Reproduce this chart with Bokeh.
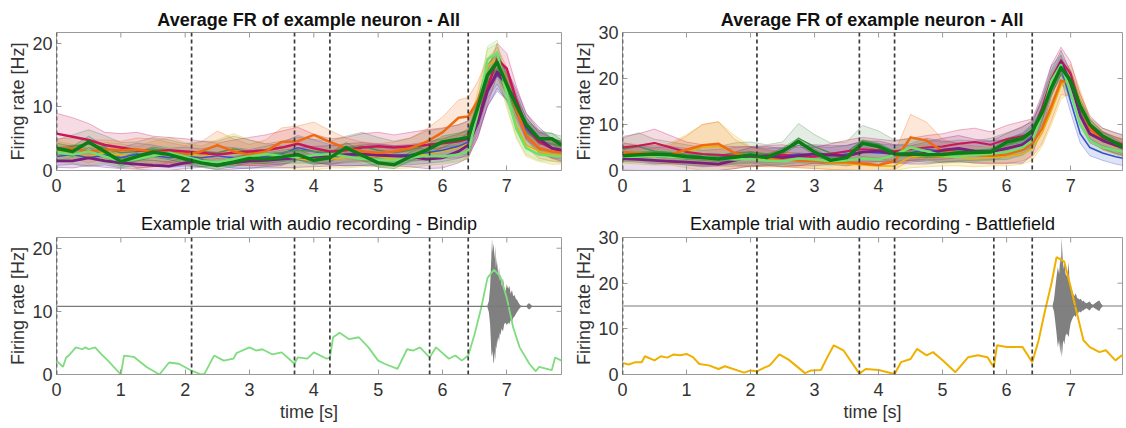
from bokeh.plotting import figure
from bokeh.layouts import column, row
from bokeh.models import Range1d, Span, FixedTicker
from bokeh.embed import file_html
from bokeh.resources import INLINE

# ---------------- data ----------------
T = [0, 0.25, 0.5, 0.75, 1.0, 1.25, 1.5, 1.75, 2.0, 2.25, 2.5, 2.75,
     3.0, 3.25, 3.5, 3.75, 4.0, 4.25, 4.5, 4.75, 5.0, 5.25, 5.5, 5.75,
     6.0, 6.25, 6.4, 6.55, 6.7, 6.85, 7.0, 7.15, 7.3, 7.5, 7.7, 7.85]

EVENTS = [0, 2.1, 3.7, 4.25, 5.8, 6.4]
X_TICKS = [0, 1, 2, 3, 4, 5, 6, 7]
Y_TICKS_L = [0, 10, 20]
Y_TICKS_R = [0, 10, 20, 30]

TITLE_TOP = "Average FR of example neuron - All"
TITLE_BL = "Example trial with audio recording - Bindip"
TITLE_BR = "Example trial with audio recording - Battlefield"
Y_LABEL = "Firing rate [Hz]"
X_LABEL = "time [s]"

# top-left: mean firing rates per condition
TL_DG = [3.5,3.0,4.5,3.0,1.4,2.2, 2.9,2.5,1.8,1.2,0.8,1.3, 1.9,1.8,2.1,2.5,1.6,2.0, 3.6,2.4,1.2,0.9,2.2,3.2, 4.5,4.9,5.2,10.0,15.0,17.0, 13.5,10.2,7.3,5.0,5.0,4.0]
TL_OR = [3.5,3.5,3.0,3.3,3.2,3.3, 3.0,2.8,2.5,3.0,4.0,3.0, 2.5,3.0,4.5,4.6,5.6,4.5, 3.5,3.0,2.8,3.0,3.5,4.5, 6.0,8.3,8.5,11.0,15.0,17.0, 14.0,9.5,5.5,3.5,3.0,2.8]
TL_PU = [1.5,1.5,2.0,1.5,1.2,1.0, 0.8,0.7,1.2,1.5,1.0,1.2, 1.5,1.6,1.8,2.0,2.2,2.3, 2.5,2.6,2.4,2.3,2.2,1.8, 2.0,3.0,4.0,7.5,12.5,15.5, 13.5,10.5,7.0,5.0,3.5,3.2]
TL_CR = [5.8,5.3,4.8,4.0,3.6,3.2, 3.0,3.2,3.0,2.8,2.5,2.8, 3.0,3.2,3.6,4.2,3.5,3.0, 3.2,3.6,3.8,3.6,3.8,4.0, 4.3,4.6,5.0,8.0,13.0,17.5, 16.0,11.0,7.0,4.5,3.5,3.0]
TL_LG = [2.8,2.5,3.0,2.2,1.5,1.8, 2.3,2.8,2.2,1.5,1.3,1.8, 2.2,2.6,2.3,2.0,2.4,2.6, 2.2,1.8,1.7,1.6,2.0,2.3, 2.2,2.5,3.0,9.0,17.5,18.5, 12.0,6.5,3.5,2.5,2.3,2.2]
TL_BL = [2.2,2.5,2.0,2.4,2.0,2.6, 2.4,2.0,2.2,2.0,2.3,2.0, 1.8,2.2,2.6,3.6,3.0,2.5, 2.2,2.4,2.6,2.4,2.5,2.8, 3.2,3.8,4.5,8.0,12.5,15.0, 13.5,10.0,6.5,4.5,3.5,3.0]
TL_GO = [3.0,2.6,2.2,2.8,2.4,2.0, 2.6,3.0,2.6,2.2,2.8,3.4, 2.8,2.4,2.2,1.8,1.6,1.8, 2.0,2.4,2.2,1.8,2.0,2.6, 3.0,3.6,4.2,10.0,16.5,17.5, 12.0,7.0,4.0,3.0,2.5,2.4]
TL_OL = [3.2,3.8,4.2,3.5,2.8,3.0, 3.4,3.0,2.6,3.0,2.8,3.4, 3.0,2.6,2.8,3.2,3.0,2.8, 3.4,3.8,3.2,2.8,3.2,4.0, 4.4,4.8,5.2,9.0,14.0,16.0, 13.0,9.0,6.0,4.6,4.2,3.8]

# top-left: standard errors
TL_DG_S = [0.8,0.8,0.9,0.8,0.7,0.7, 0.8,0.8,0.7,0.6,0.6,0.7, 0.7,0.7,0.7,0.8,0.7,0.7, 0.8,0.8,0.7,0.6,0.7,0.8, 0.9,1.0,1.0,1.3,1.6,1.7, 1.6,1.3,1.1,0.9,0.9,0.8]
TL_OR_S = [1.5,1.6,1.8,1.5,1.4,1.8, 2.0,1.6,1.4,1.5,2.2,2.0, 1.6,1.8,2.2,2.4,2.0,1.8, 1.6,1.5,1.4,1.5,1.6,2.0, 2.4,2.8,3.0,3.0,2.6,2.4, 2.2,2.0,1.8,1.6,1.5,1.5]
TL_PU_S = [1.0,1.1,1.2,1.0,0.9,0.8, 0.8,0.7,0.9,1.0,0.9,1.0, 1.1,1.2,1.4,1.5,1.6,1.6, 1.7,1.8,1.7,1.6,1.6,1.5, 1.6,1.8,2.0,2.2,2.4,2.6, 2.4,2.2,2.0,1.8,1.5,1.4]
TL_CR_S = [3.2,3.0,2.6,2.0,2.2,2.8, 2.4,2.0,2.0,1.8,1.8,2.0, 2.2,2.4,2.6,2.6,2.2,2.0, 2.0,2.2,2.2,2.0,2.2,2.4, 2.4,2.6,2.8,2.8,2.6,2.5, 2.4,2.2,2.0,1.8,1.6,1.6]
TL_LG_S = [1.0,1.0,1.1,1.0,0.9,0.9, 1.0,1.0,0.9,0.8,0.8,0.9, 0.9,1.0,1.0,0.9,0.9,1.0, 0.9,0.8,0.8,0.8,0.9,0.9, 0.9,1.0,1.0,1.5,2.0,2.0, 1.6,1.2,1.0,0.9,0.9,0.9]
TL_BL_S = [1.4,1.5,1.4,1.5,1.6,1.7, 1.6,1.5,1.5,1.4,1.5,1.6, 1.5,1.6,1.8,1.9,1.8,1.6, 1.5,1.6,1.6,1.5,1.6,1.7, 1.8,1.9,2.0,2.2,2.4,2.5, 2.4,2.1,1.8,1.6,1.5,1.5]
TL_GO_S = [1.6,1.5,1.4,1.6,1.8,1.7, 2.0,2.2,1.8,1.6,2.0,2.4, 2.0,1.8,1.7,1.6,1.5,1.4, 1.6,1.8,1.6,1.5,1.6,1.8, 2.0,2.2,2.4,2.6,2.6,2.4, 2.2,2.0,1.8,1.6,1.5,1.4]
TL_OL_S = [1.6,1.8,2.2,2.0,1.6,1.5, 1.8,1.8,1.6,1.6,1.8,2.0, 1.8,1.6,1.8,2.0,1.9,1.8, 2.0,2.2,2.0,1.8,1.9,2.2, 2.2,2.4,2.6,2.6,2.6,2.4, 2.2,2.0,1.8,1.7,1.6,1.6]

# top-right: mean firing rates per condition
TR_DG = [3.2,3.4,3.6,3.4,3.0,2.8, 2.5,2.9,3.4,2.8,4.2,6.3, 4.0,2.2,2.8,5.9,5.2,3.6, 3.6,3.4,3.5,3.8,3.9,4.0, 6.2,7.0,8.6,12.5,18.0,22.4, 19.5,14.0,10.0,7.5,6.0,5.0]
TR_OR = [4.0,3.8,3.6,3.5,4.5,5.5, 5.8,3.8,3.0,2.6,2.4,2.2, 2.0,1.8,1.8,1.5,1.2,2.0, 7.2,6.5,4.2,3.8,3.5,3.2, 3.5,4.5,6.0,9.0,14.0,19.5, 19.0,14.0,9.0,6.5,5.5,5.0]
TR_PU = [2.6,2.4,2.2,2.0,1.8,1.6, 1.4,2.2,3.0,3.2,2.8,3.2, 3.6,3.4,3.2,4.0,4.2,3.6, 3.4,3.8,4.4,4.8,4.2,4.0, 4.8,5.6,7.0,12.0,19.0,23.5, 19.0,12.0,8.0,6.5,5.5,4.8]
TR_CR = [5.0,5.4,6.0,5.0,4.0,3.6, 3.4,3.2,3.0,3.2,3.4,3.0, 3.0,3.6,4.2,4.6,4.4,4.2, 4.6,5.0,5.2,5.8,6.2,5.6, 6.8,7.5,8.2,13.5,20.0,24.0, 21.0,14.0,9.5,7.0,6.2,5.5]
TR_LG = [3.0,3.0,3.2,3.0,2.8,3.0, 2.6,2.4,2.5,2.2,2.0,2.6, 2.4,2.0,2.2,2.6,2.4,3.4, 5.0,4.2,3.2,3.0,3.4,3.6, 4.0,5.0,6.5,12.0,19.5,23.0, 17.0,10.0,6.5,5.0,4.4,4.0]
TR_BL = [4.0,3.6,3.2,3.4,3.0,2.6, 2.8,3.2,3.4,3.0,3.2,3.6, 3.4,3.2,3.6,4.0,3.8,3.6, 3.8,4.6,4.2,4.0,4.2,4.4, 4.6,5.8,7.5,13.0,20.0,22.5, 15.0,8.0,5.0,3.8,3.0,2.6]
TR_GO = [3.6,3.2,3.0,3.6,4.2,5.0, 5.2,4.0,3.0,2.8,2.4,2.2, 2.0,1.6,1.4,1.2,1.0,1.0, 3.0,3.2,3.0,2.8,2.6,2.8, 3.0,3.6,4.8,8.0,13.0,18.5, 20.0,15.0,9.0,6.5,5.2,4.8]
TR_OL = [4.6,5.2,4.2,3.8,3.4,3.0, 3.2,3.8,4.0,3.6,4.0,7.0, 5.2,3.8,4.0,6.4,5.6,4.2, 4.6,4.2,4.0,4.4,4.2,4.6, 5.6,6.6,8.0,12.5,18.0,22.0, 19.0,13.0,9.0,7.0,6.0,5.5]

# top-right: standard errors
TR_DG_S = [0.6,0.6,0.6,0.6,0.6,0.6, 0.6,0.6,0.6,0.6,0.7,0.8, 0.7,0.6,0.6,0.8,0.7,0.6, 0.6,0.6,0.6,0.6,0.6,0.6, 0.8,0.9,1.0,1.2,1.5,1.6, 1.5,1.2,1.0,0.9,0.8,0.7]
TR_OR_S = [2.0,1.8,1.8,2.0,3.0,4.5, 4.8,3.0,2.0,1.8,1.6,1.6, 1.6,1.6,1.6,1.6,1.5,1.8, 5.0,4.0,2.6,2.0,1.8,1.8, 2.0,2.4,3.0,3.2,3.2,3.0, 2.8,2.6,2.2,2.0,1.8,1.8]
TR_PU_S = [2.5,3.0,3.8,3.2,2.4,2.0, 1.8,1.8,2.0,2.0,2.0,2.2, 2.0,2.0,2.2,2.4,2.2,2.0, 2.0,2.4,2.6,2.8,2.6,2.4, 3.2,4.0,3.6,3.0,2.8,2.6, 2.4,2.2,2.0,1.8,1.8,1.8]
TR_CR_S = [2.4,2.6,3.0,2.6,2.2,2.0, 2.0,2.0,2.2,2.2,2.2,2.0, 2.0,2.2,2.4,2.6,2.4,2.2, 2.4,2.6,2.8,3.0,3.0,2.8, 3.0,3.2,3.0,3.0,3.0,2.8, 2.6,2.6,2.4,2.2,2.0,2.0]
TR_LG_S = [1.2,1.2,1.2,1.2,1.2,1.2, 1.2,1.1,1.1,1.0,1.0,1.1, 1.1,1.0,1.0,1.1,1.1,1.4, 2.0,1.8,1.4,1.3,1.4,1.5, 1.6,1.8,2.0,2.2,2.4,2.5, 2.2,2.0,1.6,1.4,1.3,1.3]
TR_BL_S = [2.0,1.8,1.8,1.8,1.8,1.8, 1.8,1.8,1.8,1.8,1.8,1.9, 1.9,1.8,1.9,2.2,2.0,1.9, 2.0,2.4,2.2,2.0,2.0,2.0, 2.2,2.4,2.6,2.8,2.8,2.6, 2.4,2.0,1.8,1.6,1.6,1.6]
TR_GO_S = [2.0,1.8,1.8,2.4,3.6,5.0, 5.4,3.6,2.2,1.8,1.6,1.6, 1.5,1.4,1.4,1.4,1.4,1.4, 2.4,2.4,2.0,1.8,1.8,1.8, 2.0,2.2,2.6,2.8,3.0,3.0, 3.0,2.6,2.2,2.0,1.8,1.8]
TR_OL_S = [2.4,3.0,2.6,2.4,2.2,2.0, 2.0,2.2,2.2,2.0,2.2,3.2, 2.6,2.2,2.2,3.4,3.0,2.4, 2.4,2.4,2.2,2.2,2.2,2.4, 2.6,2.8,3.0,3.0,3.0,3.0, 2.8,2.6,2.4,2.2,2.2,2.2]

# bottom-left: single trial (Bindip)
BL_T = [0, 0.1, 0.15, 0.2, 0.3, 0.4, 0.45, 0.5, 0.6, 0.7, 0.8, 1.0, 1.05, 1.2, 1.4, 1.6, 1.75, 1.9,
        2.1, 2.25, 2.3, 2.45, 2.6, 2.75, 2.8, 3.0, 3.1, 3.2, 3.35, 3.5, 3.7, 3.75, 3.9, 4.0, 4.2, 4.25,
        4.3, 4.4, 4.55, 4.7, 4.85, 5.0, 5.1, 5.3, 5.45, 5.55, 5.65, 5.8, 5.9, 6.1, 6.2, 6.3, 6.4, 6.5,
        6.6, 6.7, 6.8, 6.9, 7.0, 7.1, 7.2, 7.35, 7.45, 7.5, 7.7, 7.75, 7.85]
BL_FR = [2.2, 1.2, 2.7, 3.1, 4.3, 4.0, 4.3, 4.0, 4.3, 3.2, 2.2, 0.0, 3.0, 2.8, 1.2, 0.0, 1.9, 1.7,
         0.6, 0.0, 0.1, 3.0, 2.2, 2.5, 3.4, 4.3, 3.8, 4.0, 3.2, 3.5, 1.7, 2.7, 2.5, 3.5, 2.5, 2.7,
         5.9, 6.6, 5.6, 5.9, 4.3, 2.2, 1.7, 0.9, 4.0, 3.8, 4.3, 2.7, 4.3, 2.5, 3.0, 2.2, 3.0, 6.4,
         10.5, 15.3, 16.6, 15.5, 12.1, 7.4, 4.3, 1.7, 0.5, 1.2, 0.7, 2.7, 2.2]

# bottom-right: single trial (Battlefield)
BR_T = [0, 0.1, 0.2, 0.3, 0.35, 0.5, 0.6, 0.7, 0.8, 0.9, 1.0, 1.1, 1.2, 1.35, 1.5, 1.6, 1.9, 2.0,
        2.1, 2.2, 2.3, 2.45, 2.6, 2.85, 2.95, 3.1, 3.2, 3.3, 3.45, 3.7, 3.8, 4.0, 4.25, 4.35, 4.5,
        4.6, 4.75, 4.85, 5.0, 5.2, 5.4, 5.55, 5.7, 5.8, 5.85, 6.0, 6.1, 6.25, 6.4, 6.5, 6.6, 6.7,
        6.78, 6.9, 7.0, 7.1, 7.2, 7.3, 7.45, 7.55, 7.7, 7.8, 7.85]
BR_FR = [2.5, 2.2, 2.7, 2.7, 4.0, 3.1, 4.0, 3.7, 4.4, 4.2, 4.5, 3.8, 2.3, 2.0, 1.2, 1.8, 0.4, 0.9,
         0.7, 1.4, 2.0, 4.4, 3.2, 0.3, 0.9, 1.0, 3.8, 6.4, 5.3, 0.2, 1.2, 1.0, 0.1, 2.7, 3.4,
         5.6, 4.2, 4.9, 3.1, 0.5, 3.8, 4.2, 3.8, 1.6, 6.4, 6.0, 6.0, 6.0, 2.7, 7.5, 14.0, 19.9,
         25.7, 24.7, 19.2, 13.3, 7.5, 6.0, 4.9, 5.3, 3.1, 4.2, 3.1]

# audio recordings: baseline level and envelope offsets
AUD_L_BASE = 10.8
AUD_L_T = [6.70, 6.72, 6.74, 6.75, 6.76, 6.77, 6.78, 6.79, 6.80, 6.81, 6.82, 6.83, 6.84, 6.85,
           6.86, 6.87, 6.88, 6.89, 6.90, 6.92, 6.94, 6.96, 6.98, 7.00, 7.02, 7.04, 7.06, 7.08,
           7.10, 7.12, 7.14, 7.16, 7.18, 7.20, 7.22, 7.30, 7.33, 7.35, 7.37, 7.40]
AUD_L_HI = [0.2, 0.8, 3.0, 5.5, 8.0, 10.8, 8.5, 10.0, 9.0, 7.5, 9.5, 6.0, 7.8, 5.5, 7.0, 4.5,
            6.2, 4.0, 5.0, 3.2, 4.5, 3.0, 2.4, 3.5, 2.8, 3.2, 2.0, 2.6, 1.6, 1.8, 1.2, 1.0, 0.6,
            0.3, 0.1, 0.0, 0.4, 0.5, 0.3, 0.0]
AUD_L_LO = [-0.2, -0.9, -2.8, -5.0, -7.5, -8.0, -7.0, -8.8, -9.0, -7.2, -8.5, -6.2, -6.8, -5.0,
            -6.0, -4.8, -5.5, -4.2, -4.6, -3.5, -4.0, -2.8, -2.6, -3.0, -2.6, -2.8, -2.2, -2.4,
            -1.8, -1.6, -1.2, -0.9, -0.6, -0.3, -0.1, 0.0, -0.4, -0.5, -0.3, 0.0]

AUD_R_BASE = 15.0
AUD_R_T = [6.72, 6.74, 6.76, 6.78, 6.80, 6.82, 6.84, 6.85, 6.86, 6.87, 6.88, 6.89, 6.90, 6.92,
           6.94, 6.96, 6.97, 6.98, 7.00, 7.02, 7.04, 7.06, 7.08, 7.10, 7.12, 7.14, 7.16, 7.18,
           7.20, 7.22, 7.25, 7.28, 7.30, 7.32, 7.35, 7.40, 7.43, 7.45, 7.47, 7.50]
AUD_R_HI = [0.3, 1.5, 4.0, 6.5, 8.5, 7.0, 11.0, 9.0, 15.0, 12.0, 9.5, 8.0, 10.0, 7.0, 6.5, 8.0,
            9.8, 6.0, 4.0, 3.5, 2.6, 2.2, 2.8, 1.8, 1.6, 1.4, 1.6, 1.0, 1.2, 0.8, 0.6, 0.9, 1.0,
            0.5, 0.3, 0.8, 1.1, 1.2, 0.6, 0.1]
AUD_R_LO = [-0.3, -1.2, -3.5, -6.0, -9.0, -7.5, -10.5, -8.0, -11.2, -10.0, -8.0, -7.5, -8.5,
            -6.5, -6.0, -6.5, -6.8, -5.5, -3.8, -3.0, -2.4, -2.0, -2.4, -1.6, -1.5, -1.2, -1.4,
            -1.0, -1.0, -0.7, -0.5, -0.8, -1.0, -0.5, -0.3, -0.7, -1.0, -1.1, -0.5, -0.1]

# ---------------- styling ----------------
FONT = "Liberation Sans"
TXT = "#333333"
BOX = "#9a9a9a"

C_DG = "#0b7d16"
C_OR = "#f06a10"
C_PU = "#7a1f7e"
C_CR = "#c8185a"
C_LG = "#6ee06e"
C_BL = "#3a4fd0"
C_GO = "#e8b400"
C_OL = "#4f8f4f"

TICK_PX = 5


def make_fig(w, h, xmax, ymax, yticks, title, bold, bl, br, bt, bb, xlabel, tstand):
    p = figure(width=w, height=h, output_backend="svg", toolbar_location=None,
               x_range=Range1d(0, xmax), y_range=Range1d(0, ymax),
               min_border_left=bl, min_border_right=br, min_border_top=bt,
               min_border_bottom=bb, title=title)
    p.title.text_font = FONT
    p.title.text_font_size = "18px"
    p.title.text_font_style = "bold" if bold else "normal"
    p.title.text_color = "#111111"
    p.title.align = "center"
    p.title.standoff = tstand
    p.grid.visible = False
    p.outline_line_color = BOX
    p.outline_line_width = 1
    p.background_fill_color = "white"
    p.border_fill_color = "white"
    for ax in (p.xaxis[0], p.yaxis[0]):
        ax.axis_line_color = BOX
        ax.major_tick_line_color = BOX
        ax.minor_tick_line_color = None
        ax.major_tick_in = TICK_PX
        ax.major_tick_out = 0
        ax.major_label_text_font = FONT
        ax.major_label_text_font_size = "18px"
        ax.major_label_text_color = TXT
        ax.axis_label_text_font = FONT
        ax.axis_label_text_font_size = "18px"
        ax.axis_label_text_font_style = "normal"
        ax.axis_label_text_color = TXT
    p.xaxis[0].ticker = FixedTicker(ticks=X_TICKS)
    p.yaxis[0].ticker = FixedTicker(ticks=yticks)
    p.xaxis[0].major_label_standoff = 8
    p.yaxis[0].major_label_standoff = 4
    p.yaxis[0].axis_label = Y_LABEL
    p.yaxis[0].axis_label_standoff = 1
    if xlabel:
        p.xaxis[0].axis_label = xlabel
        p.xaxis[0].axis_label_standoff = 3
    # mirrored inner ticks on the top and right frame edges (MATLAB box style)
    fw = w - bl - br
    fh = h - bt - bb
    dy = ymax * TICK_PX / fh
    dx = xmax * TICK_PX / fw
    p.segment(x0=X_TICKS, x1=X_TICKS, y0=[ymax] * len(X_TICKS), y1=[ymax - dy] * len(X_TICKS),
              line_color=BOX, line_width=1)
    p.segment(x0=[xmax] * len(yticks), x1=[xmax - dx] * len(yticks), y0=yticks, y1=yticks,
              line_color=BOX, line_width=1)
    return p


def add_events(p):
    for e in EVENTS:
        p.add_layout(Span(location=e, dimension="height", line_color="#3c3c3c",
                          line_width=1.7, line_dash="4 3"))


def add_band(p, mean, sem, color):
    lo = [max(0.0, m - s) for m, s in zip(mean, sem)]
    hi = [m + s for m, s in zip(mean, sem)]
    p.varea(x=T, y1=lo, y2=hi, fill_color=color, fill_alpha=0.16)
    p.line(T, hi, line_color=color, line_alpha=0.4, line_width=0.8)
    p.line(T, lo, line_color=color, line_alpha=0.4, line_width=0.8)


def add_mean(p, mean, color, lw):
    p.line(T, mean, line_color=color, line_width=lw, line_join="round")


XMAX_L = 7.85
XMAX_R = 7.81
YMAX_L = 21.7
YMAX_R = 30

# ---- top-left ----
p1 = make_fig(566, 200, XMAX_L, YMAX_L, Y_TICKS_L, TITLE_TOP, True, 56, 5, 32, 30, None, 6)
tl = [(TL_GO, TL_GO_S, C_GO, 1.5), (TL_BL, TL_BL_S, C_BL, 1.5), (TL_OL, TL_OL_S, C_OL, 1.5),
      (TL_CR, TL_CR_S, C_CR, 2.5), (TL_PU, TL_PU_S, C_PU, 2.8), (TL_OR, TL_OR_S, C_OR, 2.5),
      (TL_LG, TL_LG_S, C_LG, 2.5), (TL_DG, TL_DG_S, C_DG, 3.5)]
for m, s, c, lw in tl:
    add_band(p1, m, s, c)
for m, s, c, lw in tl:
    add_mean(p1, m, c, lw)
add_events(p1)

# ---- top-right ----
p2 = make_fig(558, 200, XMAX_R, YMAX_R, Y_TICKS_R, TITLE_TOP, True, 56, 2, 32, 30, None, 6)
tr = [(TR_GO, TR_GO_S, C_GO, 1.5), (TR_BL, TR_BL_S, C_BL, 1.5), (TR_OL, TR_OL_S, C_OL, 1.5),
      (TR_CR, TR_CR_S, C_CR, 2.0), (TR_OR, TR_OR_S, C_OR, 2.5), (TR_PU, TR_PU_S, C_PU, 2.8),
      (TR_LG, TR_LG_S, C_LG, 2.5), (TR_DG, TR_DG_S, C_DG, 3.5)]
for m, s, c, lw in tr:
    add_band(p2, m, s, c)
for m, s, c, lw in tr:
    add_mean(p2, m, c, lw)
add_events(p2)

# ---- bottom-left ----
p3 = make_fig(566, 226, XMAX_L, YMAX_L, Y_TICKS_L, TITLE_BL, False, 56, 5, 37, 52, X_LABEL, 7)
p3.add_layout(Span(location=AUD_L_BASE, dimension="width", line_color="#7a7a7a", line_width=1.2))
p3.varea(x=AUD_L_T, y1=[AUD_L_BASE + v for v in AUD_L_LO], y2=[AUD_L_BASE + v for v in AUD_L_HI],
         fill_color="#808080")
add_events(p3)
p3.line(BL_T, BL_FR, line_color="#7fdc7f", line_width=1.8)

# ---- bottom-right ----
p4 = make_fig(558, 226, XMAX_R, YMAX_R, Y_TICKS_R, TITLE_BR, False, 56, 2, 37, 52, X_LABEL, 7)
p4.add_layout(Span(location=AUD_R_BASE, dimension="width", line_color="#7a7a7a", line_width=1.2))
p4.varea(x=AUD_R_T, y1=[AUD_R_BASE + v for v in AUD_R_LO], y2=[AUD_R_BASE + v for v in AUD_R_HI],
         fill_color="#808080")
add_events(p4)
p4.line(BR_T, BR_FR, line_color="#f0b000", line_width=2.0)

layout = column(row(p1, p2), row(p3, p4))
open("out.html", "w").write(file_html(layout, INLINE))
